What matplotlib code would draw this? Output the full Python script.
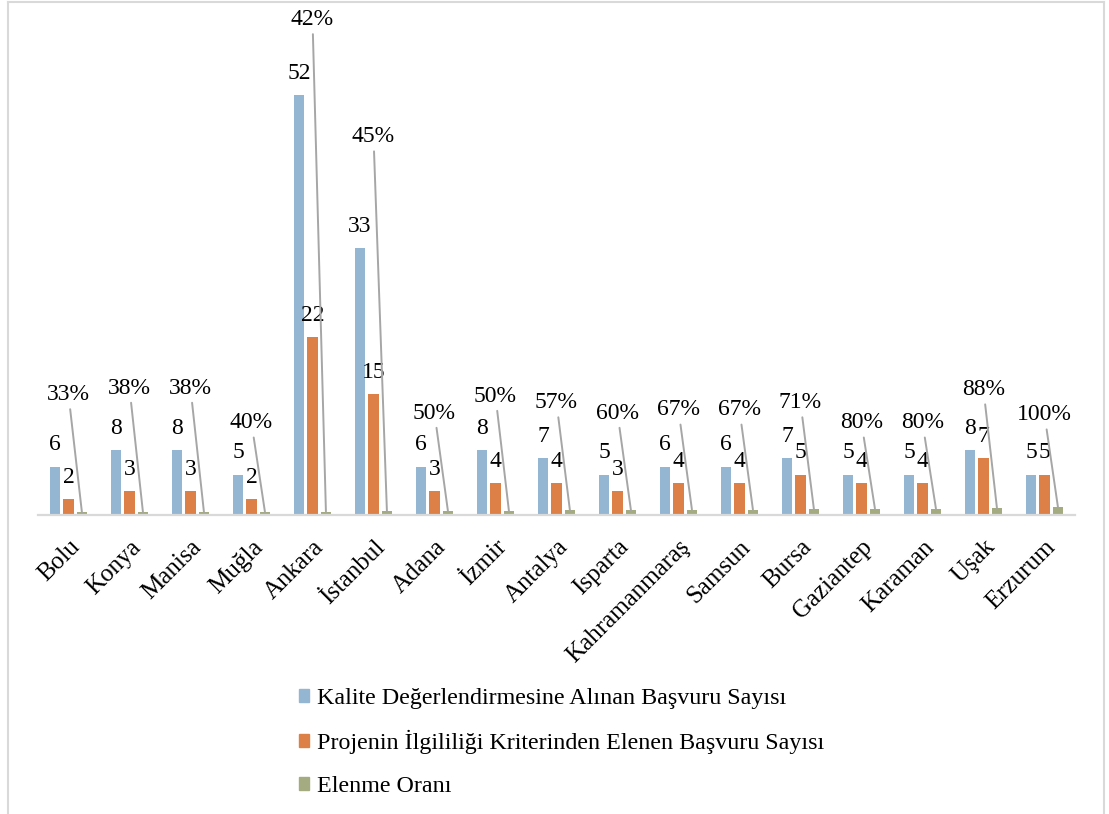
import numpy as np
import matplotlib
matplotlib.use('Agg')
import matplotlib.pyplot as plt
from matplotlib.lines import Line2D

plt.rcParams['font.family'] = ['Liberation Serif', 'DejaVu Serif']

cities = ['Bolu', 'Konya', 'Manisa', 'Muğla', 'Ankara', 'İstanbul', 'Adana', 'İzmir',
          'Antalya', 'Isparta', 'Kahramanmaraş', 'Samsun', 'Bursa', 'Gaziantep',
          'Karaman', 'Uşak', 'Erzurum']
alinan = [6, 8, 8, 5, 52, 33, 6, 8, 7, 5, 6, 6, 7, 5, 5, 8, 5]
elenen = [2, 3, 3, 2, 22, 15, 3, 4, 4, 3, 4, 4, 5, 4, 4, 7, 5]
oran = [0.33, 0.38, 0.38, 0.40, 0.42, 0.45, 0.50, 0.50, 0.57, 0.60, 0.67, 0.67,
        0.71, 0.80, 0.80, 0.88, 1.00]

series_names = ['Kalite Değerlendirmesine Alınan Başvuru Sayısı',
                'Projenin İlgililiği Kriterinden Elenen Başvuru Sayısı',
                'Elenme Oranı']
colors = ['#94b6d2', '#dd8047', '#a5ab81']

# where the percent labels sit (data units), as in the original layout
rate_label_y = [14.9, 15.7, 15.7, 11.4, 61.3, 46.8, 12.6, 14.7, 13.9, 12.6, 13.0,
                13.0, 13.9, 11.4, 11.4, 15.5, 12.4]

fig = plt.figure(figsize=(11.09, 8.14), dpi=100)
ax = fig.add_axes([38 / 1109, 1 - 515 / 814, (1075 - 38) / 1109, (515 - 30) / 814])

x = np.arange(len(cities))
step = 0.22
width = 0.175
b1 = ax.bar(x - step, alinan, width, color=colors[0])
b2 = ax.bar(x, elenen, width, color=colors[1])
b3 = ax.bar(x + step, oran, width, color=colors[2])

ax.bar_label(b1, fontsize=17, padding=8)
ax.bar_label(b2, fontsize=17, padding=8)

for i in range(len(cities)):
    ax.annotate('{:.0%}'.format(oran[i]), xy=(x[i] + step, oran[i]),
                xytext=(x[i], rate_label_y[i]), textcoords='data',
                ha='center', va='center', fontsize=17, annotation_clip=False,
                arrowprops=dict(arrowstyle='-', color='#a6a6a6', lw=1.4,
                                shrinkA=1, shrinkB=0))

ax.set_xlim(-0.5, len(cities) - 0.5)
ax.set_ylim(0, 60)
for s in ['top', 'right', 'left']:
    ax.spines[s].set_visible(False)
ax.spines['bottom'].set_color('#d9d9d9')
ax.spines['bottom'].set_linewidth(1.6)
ax.set_yticks([])
ax.tick_params(axis='x', length=0, pad=15)
ax.set_xticks(x)
ax.set_xticklabels(cities, rotation=45, ha='right', rotation_mode='anchor', fontsize=18)

handles = [plt.Rectangle((0, 0), 1, 1, color=c) for c in colors]
fig.legend(handles, series_names, loc='upper left', bbox_to_anchor=(277 / 1109, 1 - 666 / 814),
           frameon=False, fontsize=17.3, handlelength=0.45, handleheight=0.45,
           handletextpad=0.3, labelspacing=0.9)

# outer chart border
fig.add_artist(Line2D([8 / 1109, 1104 / 1109], [1 - 2 / 814, 1 - 2 / 814],
                      transform=fig.transFigure, color='#d9d9d9', lw=1.5))
fig.add_artist(Line2D([8 / 1109, 8 / 1109], [0, 1 - 2 / 814],
                      transform=fig.transFigure, color='#d9d9d9', lw=1.5))
fig.add_artist(Line2D([1104 / 1109, 1104 / 1109], [0, 1 - 2 / 814],
                      transform=fig.transFigure, color='#d9d9d9', lw=1.5))

fig.savefig('out.png', dpi=100)
